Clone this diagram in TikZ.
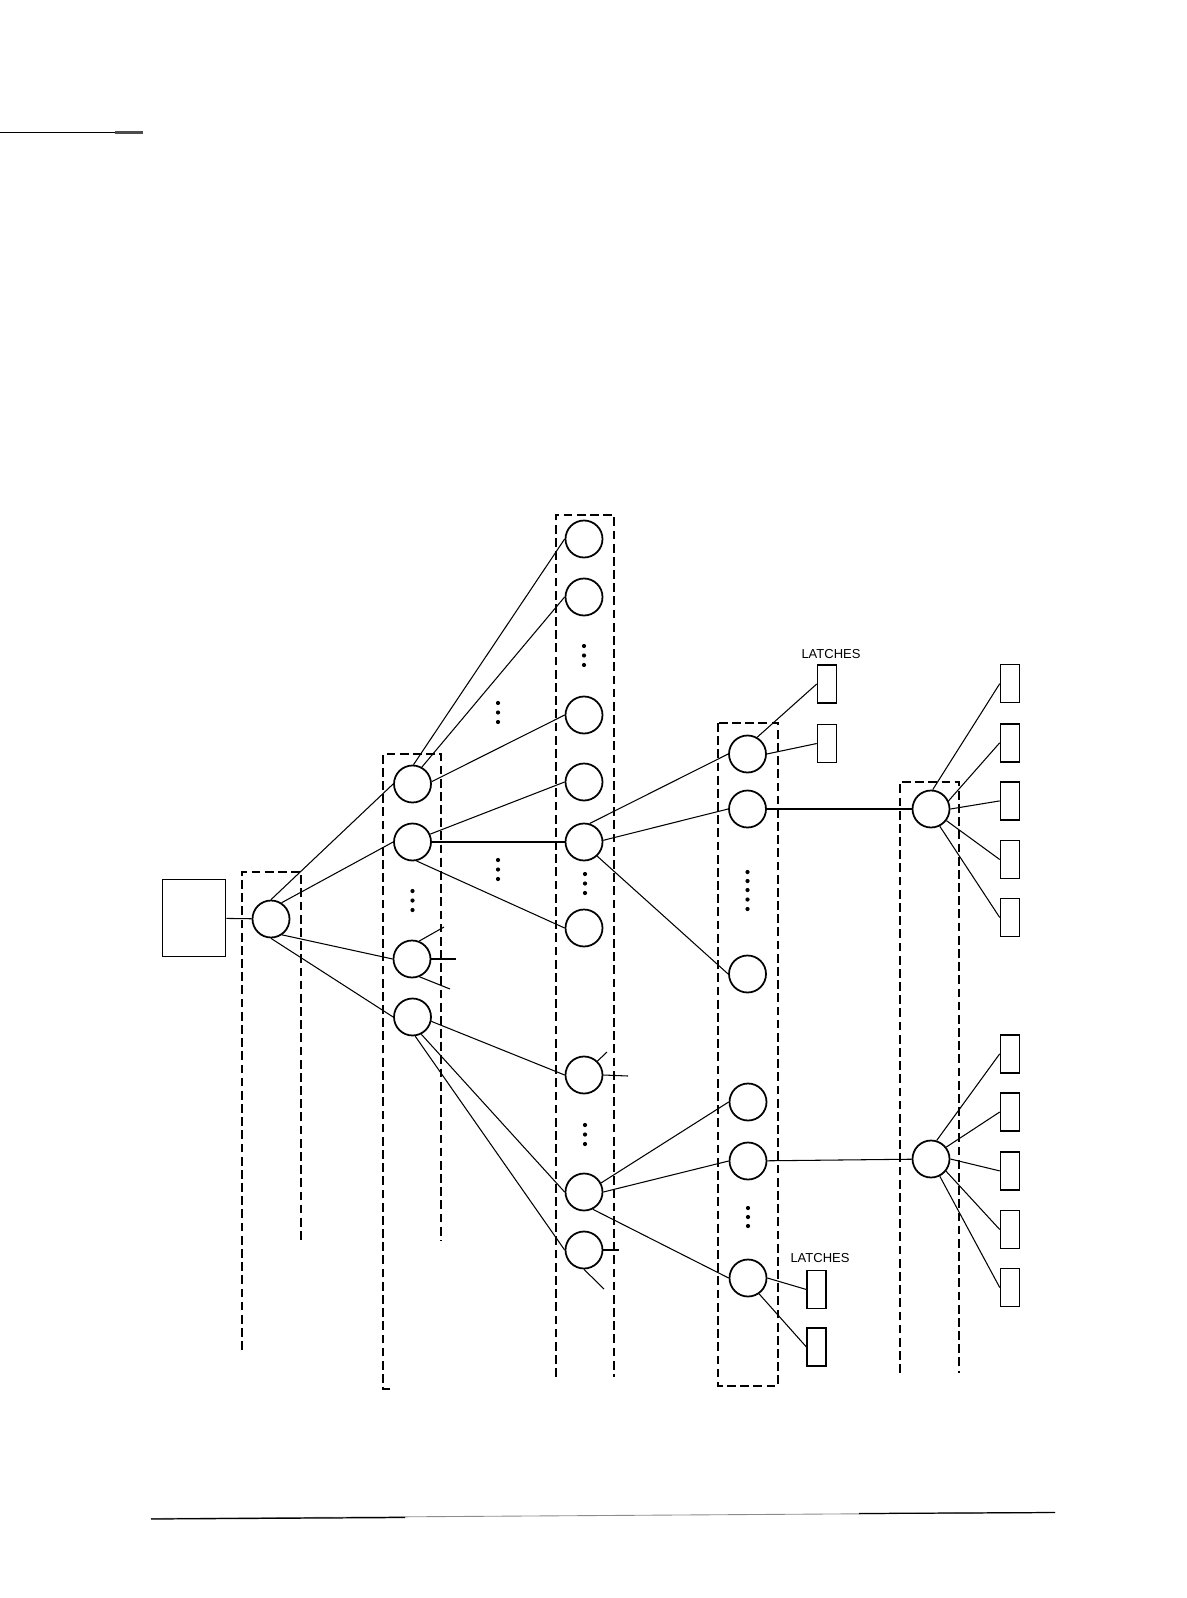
\documentclass[tikz,border=0pt]{standalone}
\usepackage{fontspec}
\setsansfont{Liberation Sans}
\usepackage{tikz}

\begin{document}
\begin{tikzpicture}[
    x=0.02cm, y=-0.02cm,
    unit/.style={circle, draw=black, line width=1pt, minimum size=0.74cm, inner sep=0pt},
    latch/.style={rectangle, draw=black, line width=0.9pt, minimum width=0.38cm, minimum height=0.76cm, inner sep=0pt},
    source/.style={rectangle, draw=black, line width=1.1pt, minimum width=1.26cm, minimum height=1.54cm, inner sep=0pt},
    group/.style={draw=black, line width=0.6pt, dash pattern=on 5pt off 2.5pt},
    wire/.style={draw=black, line width=0.6pt},
    tag/.style={font=\sffamily\fontsize{7.4}{9}\selectfont, inner sep=0pt}
]

\useasboundingbox (0,0) rectangle (1186,1598);

% page rules
\draw [line width=0.6pt] (0,132.5) -- (143,132.5);
\draw [line width=1.2pt, black!70] (115,132.5) -- (143,132.5);
\draw [line width=0.5pt, black!45] (151,1518.5) -- (1055,1512.5);
\draw [line width=0.7pt] (151,1519) -- (405,1517.5);
\draw [line width=0.7pt] (859,1513.5) -- (1055,1512.5);

% dashed groups
\draw [group] (242,1350) -- (242,872) -- (301,872) -- (301,1243);
\draw [group] (390,1389) -- (383,1389) -- (383,754) -- (441,754) -- (441,1241);
\draw [group] (556,1377) -- (556,515) -- (614,515) -- (614,1377);
\draw [group] (718,723) rectangle (778,1386);
\draw [group] (900,1373) -- (900,782) -- (959,782) -- (959,1373);

% source and root
\node (src) [source] at (194,918) {};
\node (root) [unit] at (271,919) {};

% second column
\node (c2a) [unit] at (412.5,784) {};
\node (c2b) [unit] at (412.5,842) {};
\node (c2c) [unit] at (412,959) {};
\node (c2d) [unit] at (412.5,1017) {};

% third column
\node (c3a) [unit] at (584,539) {};
\node (c3b) [unit] at (584,597) {};
\node (c3c) [unit] at (584,715) {};
\node (c3d) [unit] at (584,782) {};
\node (c3e) [unit] at (584,842) {};
\node (c3f) [unit] at (584,928) {};
\node (c3g) [unit] at (584,1075) {};
\node (c3h) [unit] at (584,1192) {};
\node (c3i) [unit] at (584,1250) {};

% fourth column
\node (c4a) [unit] at (747.5,754) {};
\node (c4b) [unit] at (747.5,809) {};
\node (c4c) [unit] at (747.5,974) {};
\node (c4d) [unit] at (748,1102) {};
\node (c4e) [unit] at (748,1161) {};
\node (c4f) [unit] at (748,1278) {};

% fifth column
\node (c5a) [unit] at (931,809) {};
\node (c5b) [unit] at (931,1159) {};

% latches
\node (lattop) [tag] at (831,654) {LATCHES};
\node (la) [latch] at (827,684) {};
\node (lb) [latch] at (827,743.5) {};
\node (latbot) [tag] at (820,1258) {LATCHES};
\node (lc) [latch] at (816.7,1289.5) {};
\node (ld) [latch] at (816.7,1347) {};

\node (ra1) [latch] at (1010,683.7) {};
\node (ra2) [latch] at (1010,742.8) {};
\node (ra3) [latch] at (1010,800.9) {};
\node (ra4) [latch] at (1010,859.5) {};
\node (ra5) [latch] at (1010,917.5) {};
\node (rb1) [latch] at (1010,1053.8) {};
\node (rb2) [latch] at (1010,1112) {};
\node (rb3) [latch] at (1010,1170.9) {};
\node (rb4) [latch] at (1010,1229.5) {};
\node (rb5) [latch] at (1010,1287.5) {};

% free ends
\coordinate (s2c1) at (444,927);
\coordinate (s2c2) at (456,959);
\coordinate (s2c3) at (450,989);
\coordinate (s3g1) at (607,1052);
\coordinate (s3g2) at (628,1076);
\coordinate (s3i1) at (619,1250);
\coordinate (s3i2) at (604,1289);

% wires
\draw [wire] (src) -- (root);
\draw [wire] (root.north) -- (c2a.west);
\draw [wire] (root.57) -- (c2b.west);
\draw [wire] (root.-55) -- (c2c.west);
\draw [wire] (root.south) -- (c2d.west);

\draw [wire] (c2a.87) -- (c3a.west);
\draw [wire] (c2a.61) -- (c3b.west);
\draw [wire] (c2a.7) -- (c3c.west);
\draw [wire] (c2b.24) -- (c3d.west);
\draw [wire] (c2b.east) -- (c3e.west);
\draw [wire] (c2b.-78) -- (c3f.west);
\draw [wire] (c2c.68) -- (s2c1);
\draw [wire] (c2c.east) -- (s2c2);
\draw [wire] (c2c.-67) -- (s2c3);
\draw [wire] (c2d.-13) -- (c3g.west);
\draw [wire] (c2d.-63) -- (c3h.west);
\draw [wire] (c2d.-82) -- (c3i.west);

\draw [wire] (c3g.46) -- (s3g1);
\draw [wire] (c3g.east) -- (s3g2);
\draw [wire] (c3i.east) -- (s3i1);
\draw [wire] (c3i.south) -- (s3i2);

\draw [wire] (c3e.73) -- (c4a.west);
\draw [wire] (c3e.5) -- (c4b.west);
\draw [wire] (c3e.-47) -- (c4c.west);
\draw [wire] (c3h.28) -- (c4d.west);
\draw [wire] (c3h.east) -- (c4e.west);
\draw [wire] (c3h.-63) -- (c4f.west);

\draw [wire] (c4a.60) -- (la.west);
\draw [wire] (c4a.east) -- (lb.west);
\draw [wire] (c4f.east) -- (lc.west);
\draw [wire] (c4f.-55) -- (ld.west);

\draw [wire] (c4b) -- (c5a);
\draw [wire] (c4e) -- (c5b);

\draw [wire] (c5a.85) -- (ra1.west);
\draw [wire] (c5a.25) -- (ra2.west);
\draw [wire] (c5a.east) -- (ra3.west);
\draw [wire] (c5a.-37) -- (ra4.west);
\draw [wire] (c5a.-63) -- (ra5.west);
\draw [wire] (c5b.73) -- (rb1.west);
\draw [wire] (c5b.38) -- (rb2.west);
\draw [wire] (c5b.east) -- (rb3.west);
\draw [wire] (c5b.-39) -- (rb4.west);
\draw [wire] (c5b.-63) -- (rb5.west);

% ellipsis dots
\fill (412.5,891) circle (0.042cm) (412.5,900.5) circle (0.042cm) (412.5,910) circle (0.042cm);
\fill (498,703) circle (0.042cm) (498,712.5) circle (0.042cm) (498,722) circle (0.042cm);
\fill (498,860) circle (0.042cm) (498,869.5) circle (0.042cm) (498,879) circle (0.042cm);
\fill (584,646) circle (0.042cm) (584,655.5) circle (0.042cm) (584,665) circle (0.042cm);
\fill (585,874) circle (0.042cm) (585,883.5) circle (0.042cm) (585,893) circle (0.042cm);
\fill (585,1125) circle (0.042cm) (585,1134.5) circle (0.042cm) (585,1144) circle (0.042cm);
\fill (747.5,872) circle (0.042cm) (747.5,881) circle (0.042cm) (747.5,890) circle (0.042cm)
      (747.5,899.5) circle (0.042cm) (747.5,909) circle (0.042cm);
\fill (748,1208) circle (0.042cm) (748,1217) circle (0.042cm) (748,1226) circle (0.042cm);

\end{tikzpicture}
\end{document}
